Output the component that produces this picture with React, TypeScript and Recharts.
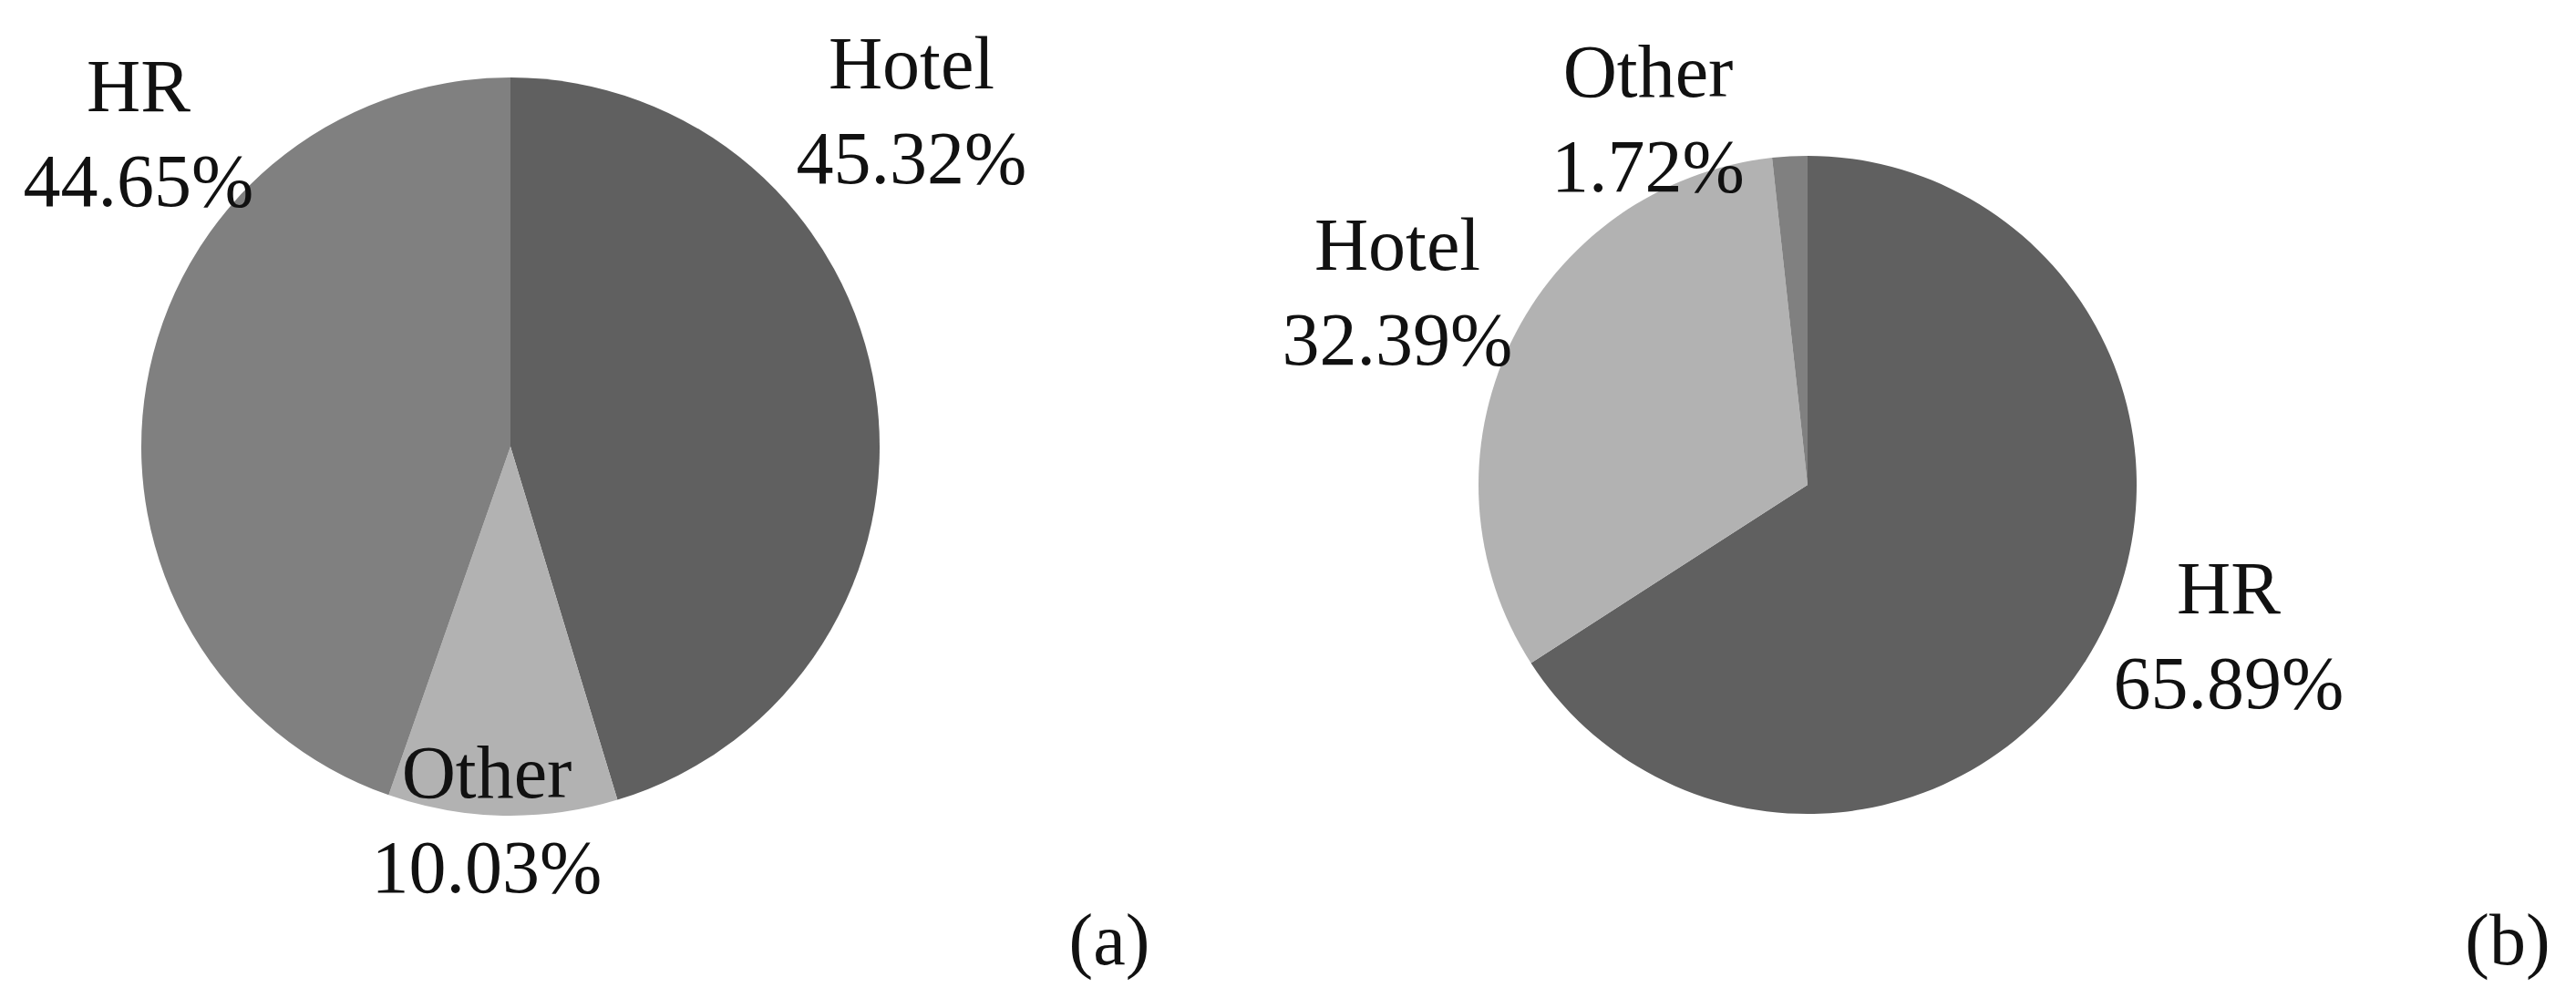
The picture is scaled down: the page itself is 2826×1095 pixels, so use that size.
import { PieChart, Pie, Cell } from "recharts";

// panel (a)
const categoriesA = ["Hotel", "Other", "HR"];
const sharesA = [45.32, 10.03, 44.65];
// panel (b)
const categoriesB = ["HR", "Hotel", "Other"];
const sharesB = [65.89, 32.39, 1.72];
const panelTags = ["(a)", "(b)"];

// slice shades, in slice order (same for both panels)
const shades = ["#606060", "#b2b2b2", "#808080"];

const dataA = categoriesA.map((name, i) => ({ name, value: sharesA[i] }));
const dataB = categoriesB.map((name, i) => ({ name, value: sharesB[i] }));

// manual label placement (first baseline, relative to the pie centre), like Excel's dragged labels
const labelOffsetA: Record<string, [number, number]> = {
  Hotel: [440, -393],
  Other: [-26, 385],
  HR: [-408, -368],
};
const labelOffsetB: Record<string, [number, number]> = {
  HR: [462, 141],
  Hotel: [-450, -236],
  Other: [-175, -426],
};

const FONT = "'Liberation Serif', 'DejaVu Serif', serif";
const FONT_SIZE = 82;
const LINE_GAP = 104;

const makeLabel = (offsets: Record<string, [number, number]>) => (props: any) => {
  const { cx, cy, value } = props;
  const name = props.name ?? props.payload?.name;
  const [dx, dy] = offsets[name] ?? [0, 0];
  const x = cx + dx;
  return (
    <text x={x} y={cy + dy} textAnchor="middle" fontFamily={FONT} fontSize={FONT_SIZE} fill="#111">
      <tspan x={x}>{name}</tspan>
      <tspan x={x} dy={LINE_GAP}>{Number(value).toFixed(2)}%</tspan>
    </text>
  );
};

export default function App() {
  return (
    <div style={{ position: "absolute", left: 0, top: 0, width: 2826, height: 1095, background: "#fff" }}>
      <PieChart width={2826} height={1095} margin={{ top: 0, right: 0, bottom: 0, left: 0 }}>
        <Pie
          data={dataA}
          dataKey="value"
          nameKey="name"
          cx={560}
          cy={490}
          outerRadius={405}
          startAngle={90}
          endAngle={-270}
          stroke="none"
          labelLine={false}
          label={makeLabel(labelOffsetA)}
          isAnimationActive={false}
        >
          {dataA.map((d, i) => (
            <Cell key={d.name} fill={shades[i]} />
          ))}
        </Pie>
        <Pie
          data={dataB}
          dataKey="value"
          nameKey="name"
          cx={1983}
          cy={532}
          outerRadius={361}
          startAngle={90}
          endAngle={-270}
          stroke="none"
          labelLine={false}
          label={makeLabel(labelOffsetB)}
          isAnimationActive={false}
        >
          {dataB.map((d, i) => (
            <Cell key={d.name} fill={shades[i]} />
          ))}
        </Pie>
      </PieChart>
      <svg width={2826} height={1095} style={{ position: "absolute", left: 0, top: 0, pointerEvents: "none" }}>
        <text x={1217} y={1058} textAnchor="middle" fontFamily={FONT} fontSize={80} fill="#111">
          {panelTags[0]}
        </text>
        <text x={2751} y={1058} textAnchor="middle" fontFamily={FONT} fontSize={80} fill="#111">
          {panelTags[1]}
        </text>
      </svg>
    </div>
  );
}
